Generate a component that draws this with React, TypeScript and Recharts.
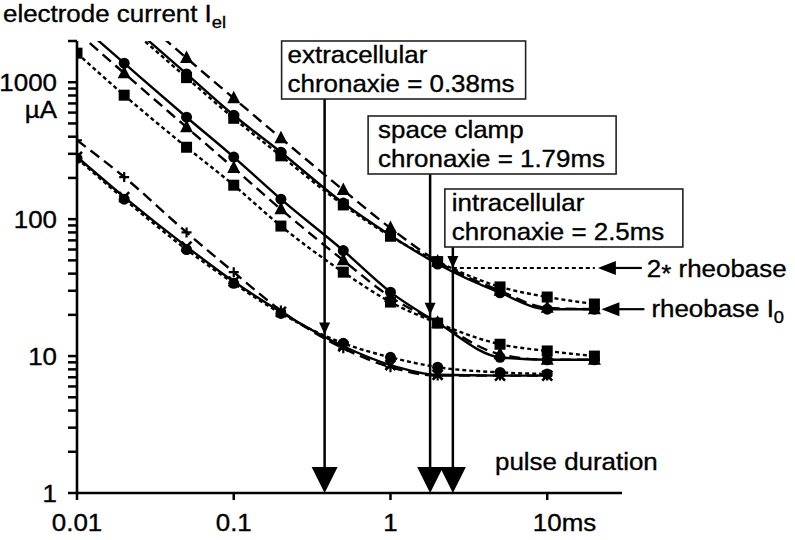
import React from 'react';
import { ComposedChart, Line, XAxis, YAxis, ReferenceDot } from 'recharts';

const FONT = '"Liberation Sans", Arial, Helvetica, sans-serif';
const SX = 1.08; // the original lettering is a bit wider than Arial

// pulse durations (ms)
const durA = [0.02, 0.05, 0.1, 0.2, 0.5, 1, 2, 5, 10, 20];
const durB = [0.01, 0.02, 0.05, 0.1, 0.2, 0.5, 1, 2, 5, 10, 20];
const durC = [0.01, 0.02, 0.05, 0.1, 0.2, 0.5, 1, 2, 5, 10];

// electrode current (uA); values above 2000 only carry the fit line off the top
const aTriangle = [3750, 1500, 764, 390, 163, 86, 49, 30, 22.5, 22];
const aCircle = [2875, 1150, 574, 308, 131, 76, 47, 29, 22, 22];
const aSquare = [2700, 1080, 545, 290, 127, 75, 49, 32, 27, 24];

const bTriangle = [2330, 1164, 469, 236, 118, 50, 27, 17.5, 10.3, 9.4, 9.4];
const bCircle = [2750, 1377, 555, 284, 140, 59, 29.3, 17.5, 9.8, 9.4, 9.4];
const bSquare = [1630, 804, 335, 177, 89, 41, 24.8, 17.4, 12.2, 10.9, 10];

const cPlus = [377, 203, 80, 41, 21.5, 11.4, 8.3, 7.2, 7.2, 7.2];
const cCross = [285, 145, 63, 35, 21, 11.8, 8.6, 7.3, 7.2, 7.2];
const cCircle = [278, 140, 60, 34, 20.5, 12.4, 9.8, 8.3, 7.6, 7.4];

const xTicks = [0.01, 0.1, 1, 10];
const xTickLabels = ['0.01', '0.1', '1', '10ms'];
const yTicks = [
  1, 2, 3, 4, 5, 6, 7, 8, 9,
  10, 20, 30, 40, 50, 60, 70, 80, 90,
  100, 200, 300, 400, 500, 600, 700, 800, 900,
  1000, 2000,
];
const yTickLabels: Record<number, string> = { 1: '1', 10: '10', 100: '100', 1000: '1000' };

const chronaxies = [0.38, 1.79, 2.5];
const chronaxieNames = ['extracellular', 'space clamp', 'intracellular'];
const chronaxieLabels = ['chronaxie = 0.38ms', 'chronaxie = 1.79ms', 'chronaxie = 2.5ms'];
const rheobases = [7.2, 10, 22];
const rheobaseDuration = 20;

// box placement relative to each chronaxie line (pixels)
const boxes = [
  { left: -43, top: 41, w: 244, text: -37 },
  { left: -62, top: 116, w: 248, text: -52 },
  { left: -8, top: 189, w: 238, text: -1 },
];

const LONG = '11 6';
const SHORT = '4 3';
const LW = 2.4;

const pts = (ts: number[], vs: number[]) => ts.map((t, i) => ({ t, v: vs[i] }));

const series = [
  { id: 'aTri', data: pts(durA, aTriangle), dash: LONG, marker: 'triangle' },
  { id: 'aCir', data: pts(durA, aCircle), dash: undefined, marker: 'circle' },
  { id: 'aSq', data: pts(durA, aSquare), dash: SHORT, marker: 'square' },
  { id: 'bTri', data: pts(durB, bTriangle), dash: LONG, marker: 'triangle' },
  { id: 'bCir', data: pts(durB, bCircle), dash: undefined, marker: 'circle' },
  { id: 'bSq', data: pts(durB, bSquare), dash: SHORT, marker: 'square' },
  { id: 'cPl', data: pts(durC, cPlus), dash: LONG, marker: 'plus' },
  { id: 'cCr', data: pts(durC, cCross), dash: undefined, marker: 'cross' },
  { id: 'cCi', data: pts(durC, cCircle), dash: SHORT, marker: 'circle' },
];

const Txt = ({ x, y, anchor = 'start', size = 24, children }: any) => (
  <text
    transform={`translate(${x},${y}) scale(${SX},1)`}
    textAnchor={anchor}
    fontFamily={FONT}
    fontSize={size}
    fill="#000"
    stroke="#000"
    strokeWidth={0.35}
  >
    {children}
  </text>
);

const marker = (kind: string) => (p: any) => {
  const { cx, cy, index } = p;
  const key = `m-${index}`;
  const v = p.payload ? p.payload.v : p.value;
  if (cx == null || cy == null || v > 2000) return <g key={key} />;
  if (kind === 'triangle')
    return <polygon key={key} points={`${cx},${cy - 7.5} ${cx - 6.5},${cy + 5} ${cx + 6.5},${cy + 5}`} fill="#000" />;
  if (kind === 'circle') return <circle key={key} cx={cx} cy={cy} r={5.5} fill="#000" />;
  if (kind === 'square') return <rect key={key} x={cx - 5.5} y={cy - 5.5} width={11} height={11} fill="#000" />;
  if (kind === 'plus')
    return (
      <path key={key} d={`M${cx - 5},${cy}H${cx + 5}M${cx},${cy - 5}V${cy + 5}`} stroke="#000" strokeWidth={2.2} />
    );
  return (
    <path
      key={key}
      d={`M${cx - 5},${cy - 5}L${cx + 5},${cy + 5}M${cx + 5},${cy - 5}L${cx - 5},${cy + 5}`}
      stroke="#000"
      strokeWidth={2.6}
    />
  );
};

const YTick = ({ x, y, payload }: any) => {
  const lbl = yTickLabels[payload.value];
  if (!lbl) return <g />;
  return (
    <g>
      <Txt x={x} y={y + 9} anchor="end">{lbl}</Txt>
      {payload.value === 1000 && <Txt x={x} y={y + 36} anchor="end">µA</Txt>}
    </g>
  );
};

const XTick = ({ x, y, payload, index }: any) => {
  const lbl = xTickLabels[index] ?? String(payload.value);
  if (lbl === '10ms') return <Txt x={x - 14.4} y={y + 29}>{lbl}</Txt>;
  return <Txt x={x} y={y + 29} anchor="middle">{lbl}</Txt>;
};

const ChronaxieMark = ({ cx, cy, i }: any) => {
  const b = boxes[i];
  return (
    <g>
      <line x1={cx} y1={b.top + 58} x2={cx} y2={cy - 20} stroke="#000" strokeWidth={2.5} />
      <polygon points={`${cx - 13},${cy - 26} ${cx + 13},${cy - 26} ${cx},${cy}`} fill="#000" />
      <rect x={cx + b.left} y={b.top} width={b.w} height={58} fill="#fff" stroke="#222" strokeWidth={1.6} />
      <Txt x={cx + b.text} y={b.top + 22}>{chronaxieNames[i]}</Txt>
      <Txt x={cx + b.text} y={b.top + 51}>{chronaxieLabels[i]}</Txt>
    </g>
  );
};

const SmallArrow = ({ cx, cy }: any) => (
  <polygon points={`${cx - 5.5},${cy - 12} ${cx + 5.5},${cy - 12} ${cx},${cy}`} fill="#000" />
);

const TwiceRheobaseMark = ({ cx, cy }: any) => (
  <g>
    <line x1={cx} y1={cy} x2={cx + 142} y2={cy} stroke="#000" strokeWidth={2} strokeDasharray={SHORT} />
    <polygon points={`${cx + 145},${cy} ${cx + 163},${cy - 7} ${cx + 163},${cy + 7}`} fill="#000" />
    <line x1={cx + 160} y1={cy} x2={cx + 189} y2={cy} stroke="#000" strokeWidth={2.2} />
    <Txt x={cx + 194} y={cy + 9}>
      2<tspan dy={5}>*</tspan>
      <tspan dy={-5}> rheobase</tspan>
    </Txt>
  </g>
);

const RheobaseMark = ({ cx, cy }: any) => (
  <g>
    <polygon points={`${cx + 7},${cy} ${cx + 25},${cy - 7} ${cx + 25},${cy + 7}`} fill="#000" />
    <line x1={cx + 22} y1={cy} x2={cx + 50} y2={cy} stroke="#000" strokeWidth={2.2} />
    <Txt x={cx + 57} y={cy + 8}>
      rheobase I<tspan fontSize={17} dy={6}>0</tspan>
    </Txt>
  </g>
);

export default function App() {
  return (
    <div style={{ position: 'absolute', left: 0, top: 0, width: 795, height: 540, background: '#fff' }}>
      <ComposedChart width={795} height={540} margin={{ top: 41, right: 173, bottom: 0, left: 0 }}>
        <XAxis
          dataKey="t"
          type="number"
          scale="log"
          domain={[0.01, 30]}
          allowDataOverflow
          ticks={xTicks}
          interval={0}
          height={47}
          tickSize={7}
          tickMargin={2}
          axisLine={{ stroke: '#000', strokeWidth: 2.6 }}
          tickLine={{ stroke: '#000', strokeWidth: 2.5 }}
          tick={(p: any) => <XTick {...p} />}
        />
        <YAxis
          type="number"
          scale="log"
          domain={[1, 2000]}
          allowDataOverflow
          ticks={yTicks}
          interval={0}
          width={77}
          tickSize={9}
          tickMargin={11}
          axisLine={{ stroke: '#000', strokeWidth: 2.6 }}
          tickLine={{ stroke: '#000', strokeWidth: 2.5 }}
          tick={(p: any) => <YTick {...p} />}
        />
        {series.map((s) => (
          <Line
            key={s.id}
            data={s.data}
            dataKey="v"
            type="monotone"
            stroke="#000"
            strokeWidth={LW}
            strokeDasharray={s.dash}
            dot={marker(s.marker)}
            activeDot={false}
            isAnimationActive={false}
          />
        ))}
        {chronaxies.map((c, i) => (
          <ReferenceDot
            key={`chr-${i}`}
            x={c}
            y={1}
            ifOverflow="visible"
            shape={(p: any) => <ChronaxieMark {...p} i={i} />}
          />
        ))}
        {chronaxies.map((c, i) => (
          <ReferenceDot
            key={`half-${i}`}
            x={c}
            y={2 * rheobases[i]}
            ifOverflow="visible"
            shape={(p: any) => <SmallArrow {...p} />}
          />
        ))}
        <ReferenceDot
          x={chronaxies[2]}
          y={2 * rheobases[2]}
          ifOverflow="visible"
          shape={(p: any) => <TwiceRheobaseMark {...p} />}
        />
        <ReferenceDot
          x={rheobaseDuration}
          y={rheobases[2]}
          ifOverflow="visible"
          shape={(p: any) => <RheobaseMark {...p} />}
        />
      </ComposedChart>
      <svg
        width={795}
        height={540}
        style={{ position: 'absolute', left: 0, top: 0, pointerEvents: 'none' }}
      >
        <Txt x={3} y={22}>
          electrode current I<tspan fontSize={17} dy={6}>el</tspan>
        </Txt>
        <Txt x={495} y={470}>pulse duration</Txt>
      </svg>
    </div>
  );
}
